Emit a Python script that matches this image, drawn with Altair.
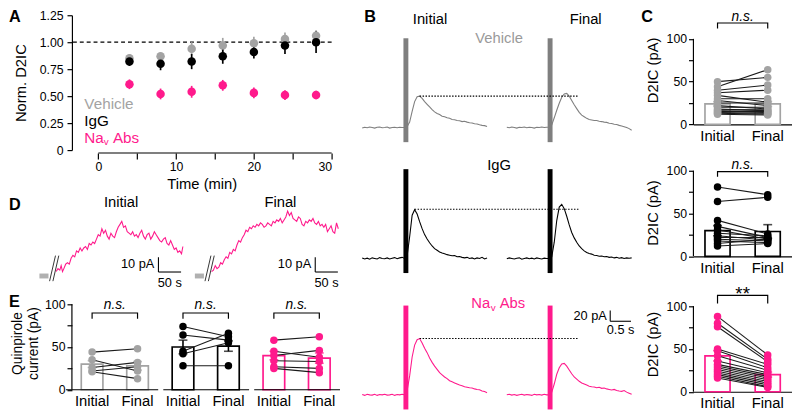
import altair as alt
import pandas as pd

S = 0.985
FONT = "Liberation Sans"
C_VEH = "#a3a3a3"
C_VEH_TR = "#7f7f7f"
C_IGG = "#000000"
C_NAV = "#ff1a8c"
C_LINE = "#1a1a1a"
GROUPS = ["Vehicle", "IgG", "Nav"]
GROUP_COLORS = [C_VEH, C_IGG, C_NAV]


def s(v):
    return v * S


# ================= DATA =================
# ---- Panel A: normalized D2IC over time
a_time = [4, 8, 12, 16, 20, 24, 28]
a_veh = [0.85, 0.87, 0.94, 0.97, 0.99, 1.03, 1.06]
a_veh_err = [0.04, 0.03, 0.06, 0.07, 0.06, 0.06, 0.05]
a_igg = [0.82, 0.80, 0.82, 0.87, 0.91, 0.97, 1.00]
a_igg_err = [0.04, 0.06, 0.07, 0.07, 0.06, 0.08, 0.10]
a_nav = [0.61, 0.52, 0.54, 0.60, 0.53, 0.51, 0.51]
a_nav_err = [0.045, 0.05, 0.055, 0.05, 0.05, 0.045, 0.04]
a_ref_level = [1.0]
a_axis_span = [0, 30]
a_x_ticks = [0, 5, 10, 15, 20, 25, 30]
a_y_ticks = [0, 0.25, 0.5, 0.75, 1.0, 1.25]
a_legend_text = ["Vehicle", "IgG", "Na"]
a_legend_x = [-1.8, -1.8, -1.8]
a_legend_y = [0.43, 0.265, 0.11]

# ---- Panel B: example D2IC traces (pA), sampled every 0.06 s
b_t = [round(0.06 * i, 2) for i in range(51)]
b_veh_init = [-1, 0.5, -0.5, 1, 0, -1, 0.5, 1, -0.5, 0, 1, -1, 0, 0.5, -0.5, 0.5, 0,
              0, 2, 10, 30, 48, 57, 58, 54, 48, 43, 38, 33, 29, 26, 24, 21, 20, 18, 17,
              15, 14.5, 13, 12.5, 11, 11.5, 10, 9, 8.5, 7, 6.5, 5, 4, 3.5, 2]
b_veh_final = [0.5, -0.5, 1, 0, -1, 0.5, 0, 1, -0.5, 0.5, 0, -1, 0.5, 0, 1, 0, 0.5,
               1, 5, 18, 32, 45, 56, 62, 63, 58, 50, 42, 35, 28, 23, 20, 17, 15, 14, 13,
               13, 11.5, 11, 10, 9.5, 8, 7.5, 6, 5.5, 4, 3, 1.5, 0, -2, -5]
b_igg_init = [1, -1, 0.5, -1.5, 1, 0, -1, 1.5, 0, -0.5, 1, -1, 0.5, 1.5, -0.5, 1, 2,
              0, 5, 40, 80, 90, 82, 68, 55, 44, 36, 29, 23, 18, 15, 12, 10, 8.5, 7, 6,
              5, 5.5, 3, 3.5, 2, 1, 2, 0, 1, -1, 1, 0, 2, -1, 1]
b_igg_final = [-0.5, 1, 0, -1, 0.5, 1, -1.5, 0, 1, -0.5, 0.5, -1, 1, 0, -1, 0.5, 0,
               0, 3, 30, 70, 95, 100, 92, 78, 62, 48, 38, 30, 23, 18, 14, 11, 9, 8, 6,
               5.5, 4, 4.5, 3, 3.5, 2, 2.5, 1, 2, 0.5, 1.5, 0, 1, 0.5, 1]
b_nav_init = [0.5, -1, 1, 0, -0.5, 1, -1, 0.5, 0, 1, -0.5, 0, 1, -1, 0.5, 0, 1,
              0, 8, 35, 70, 92, 102, 104, 96, 86, 78, 68, 60, 53, 47, 41, 37, 33, 30, 26,
              24, 22, 20, 18, 17, 15, 14, 13, 12.5, 11, 10, 9.5, 7, 6, 4]
b_nav_final = [0, 1, -0.5, 0.5, -1, 0, 1, -0.5, 0.5, 0, -1, 1, 0, 0.5, -0.5, 1, 0,
               0, 5, 20, 38, 50, 57, 58, 53, 46, 39, 33, 29, 25, 22, 20, 18, 16, 15, 14.5,
               13, 14, 12, 12.5, 11, 10, 9, 10, 8, 7, 6.5, 8, 5, 3, 1]
b_final_offset = 3.475
b_stim_t = [1.05, 4.515]
b_stim_lo = -27
b_stim_hi = 165
b_peak_t = [1.38, 1.26, 1.38]
b_peak_v = [58, 91, 104]
b_dot_end = 5.2
b_header_text = ["Initial", "Final"]
b_header_t = [1.63, 5.37]
b_scalebar_t = [5.96, 6.46]
b_scalebar_v = [136, 156]

# ---- Panel C: D2IC (pA) paired data
c_veh_init = [50, 44, 40, 37, 34, 30, 28, 25, 22, 20, 18, 17, 16, 15, 14, 13, 12]
c_veh_final = [55, 64, 46, 40, 26, 30, 22, 25, 18, 20, 16, 17, 14, 15, 13, 12, 11]
c_igg_init = [81, 64, 42, 35, 31, 27, 24, 22, 20, 18, 15, 12]
c_igg_final = [72, 69, 26, 22, 20, 24, 19, 22, 18, 16, 20, 15]
c_nav_init = [88, 80, 76, 50, 48, 42, 36, 32, 30, 28, 26, 24, 22, 20, 18, 16]
c_nav_final = [43, 38, 35, 32, 28, 25, 22, 20, 18, 16, 14, 12, 10, 8, 6, 5]
c_veh_mean, c_veh_sem = [24, 24], [2.5, 3]
c_igg_mean, c_igg_sem = [30, 29], [6, 8]
c_nav_mean, c_nav_sem = [42, 20], [6, 3]

# ---- Panel D: quinpirole current traces (pA vs s)
d_init_t = [0, 4, 8, 11, 14, 17, 21, 25, 29, 33, 37, 41, 45, 49, 53, 57, 61, 65, 69, 73,
            77, 81, 85, 89, 93, 97, 101, 105, 109, 113, 117, 121, 125, 129, 133, 137,
            141, 145, 149, 153, 157, 161, 165, 169, 173, 177, 181, 185, 189, 193, 197,
            201, 205, 209, 213, 217, 221, 225, 229, 233, 237, 241, 245, 249, 253, 257,
            261, 265, 269, 273, 277, 280]
d_init_v = [3, 5, 4, 7, 3, 5, 8, 9, 8, 12, 14, 13, 17, 16, 19, 17, 19, 20, 18, 22,
            21, 23, 22, 25, 28, 27, 32, 29, 31, 27, 25, 29, 27, 26, 30, 33, 35, 37, 33, 34,
            30, 29, 28, 30, 27, 28, 26, 29, 31, 27, 25, 28, 29, 25, 27, 30, 28, 26, 24, 23,
            25, 26, 22, 21, 24, 21, 18, 19, 16, 17, 15, 20]
d_final_t = [0, 4, 8, 12, 16, 20, 24, 28, 32, 36, 40, 44, 48, 52, 56, 60, 64, 68, 72, 76,
             80, 84, 88, 92, 96, 100, 104, 108, 112, 116, 120, 124, 128, 132, 136, 140,
             144, 148, 152, 156, 160, 164, 168, 172, 176, 180, 184, 188, 192, 196, 200,
             204, 208, 212, 216, 220, 224, 228, 232, 236, 240, 244, 248, 252, 256, 260,
             264, 268, 272, 276, 280]
d_final_v = [3, 4, 7, 5, 6, 9, 8, 11, 13, 12, 16, 15, 18, 17, 21, 24, 23, 26, 28, 31,
             30, 33, 32, 34, 33, 35, 34, 36, 35, 33, 34, 36, 35, 34, 37, 36, 38, 37, 39, 36,
             38, 40, 44, 41, 43, 39, 38, 37, 40, 39, 35, 34, 37, 36, 38, 37, 39, 36, 35, 37,
             34, 35, 33, 35, 30, 32, 34, 30, 29, 36, 32]
d_final_offset = 343.5
d_stub = [-37, -17]
d_break_x0 = [-14.6, -7.2]
d_break_x1 = [-1.5, 5.8]
d_break_v = [-3.5, 13.8]
d_scalebar_t = [226, 572.5]
d_scalebar_len = 50
d_scalebar_v = [2.7, 12.7]
d_title_text = ["Initial", "Final"]
d_title_t = [143.5, 495.5]

# ---- Panel E: quinpirole current (pA) paired data
e_veh_init = [44, 35, 26, 22, 21]
e_veh_final = [48, 22, 32, 27, 13]
e_igg_init = [74, 64, 45, 42, 28]
e_igg_final = [62, 58, 66, 55, 28]
e_nav_init = [58, 45, 40, 34, 27, 25]
e_nav_final = [62, 38, 46, 33, 25, 20]
e_veh_mean, e_veh_sem = [30, 28], [4, 5]
e_igg_mean, e_igg_sem = [50, 51], [8, 6]
e_nav_mean, e_nav_sem = [40, 37], [5, 6]

# ================= LAYOUT (reference px) =================
A_W, A_H = 264, 137
B_W = 313
B_H = [129, 106, 115]
C_W = 100
C_H = [111, 89, 97]
D_W, D_H = 271, 110
E_W, E_H = 272, 95
PA_PX = 0.87  # px per pA for bar panels


def letter(ch, dx, dy):
    return alt.Chart(pd.DataFrame({"txt": [ch]})).mark_text(
        fontSize=s(16.5), fontWeight="bold", align="left", baseline="middle", color="black"
    ).encode(text="txt:N", x=alt.value(s(dx)), y=alt.value(s(dy)))


# ================= PANEL A =================
recs = []
for g, m, e in zip(GROUPS, [a_veh, a_igg, a_nav], [a_veh_err, a_igg_err, a_nav_err]):
    for t, mm, ee in zip(a_time, m, e):
        recs.append({"g": g, "t": t, "m": mm, "lo": mm - ee, "hi": mm + ee})
dfA = pd.DataFrame(recs)
axA_x = alt.Axis(values=a_x_ticks, labelExpr="datum.value % 10 === 0 ? datum.label : ''",
                 title="Time (min)", offset=s(3), domain=False, tickSize=s(6),
                 labelPadding=s(2), titlePadding=s(3), labelFontSize=s(12.5), titleFontSize=s(15))
axA_y = alt.Axis(values=a_y_ticks,
                 labelExpr="datum.value === 0 ? '0' : format(datum.value, '.2f')",
                 title="Norm. D2IC", tickSize=s(5), labelPadding=s(4), titlePadding=s(11),
                 labelFontSize=s(12.5), titleFontSize=s(15))
scA_x = alt.Scale(domain=[-3.4, 30], nice=False, zero=False)
scA_y = alt.Scale(domain=[0, 1.25], nice=False, zero=False)


def XA(f):
    return alt.X(f, type="quantitative", scale=scA_x, axis=axA_x)


def YA(f):
    return alt.Y(f, type="quantitative", scale=scA_y, axis=axA_y)


colG = alt.Color("g:N", scale=alt.Scale(domain=GROUPS, range=GROUP_COLORS), legend=None)

dashA = alt.Chart(pd.DataFrame({"y": a_ref_level})).mark_rule(
    color="black", strokeWidth=s(1.2), strokeDash=[s(4), s(3)]).encode(y=YA("y"))
xlineA = alt.Chart(pd.DataFrame({"x0": [a_axis_span[0]], "x1": [a_axis_span[1]]})).mark_rule(
    color="black", strokeWidth=s(1.2)).encode(x=XA("x0"), x2="x1", y=alt.value(s(A_H + 3)))
errA = alt.Chart(dfA).mark_rule(strokeWidth=s(1.7)).encode(x=XA("t"), y=YA("lo"), y2="hi", color=colG)
ptsA = alt.Chart(dfA).mark_circle(size=s(s(75)), opacity=1).encode(x=XA("t"), y=YA("m"), color=colG)
dfLeg = pd.DataFrame({"txt": a_legend_text, "x": a_legend_x, "y": a_legend_y, "g": GROUPS})
legA = alt.Chart(dfLeg).mark_text(align="left", baseline="middle", fontSize=s(15.5)).encode(
    x=XA("x"), y=YA("y"), text="txt:N", color=colG)
legSub = alt.Chart(dfLeg.iloc[[2]]).mark_text(align="left", baseline="middle", fontSize=s(10),
                                              dx=s(19.8), dy=s(4), text="v", color=C_NAV).encode(
    x=XA("x"), y=YA("y"))
legAbs = alt.Chart(dfLeg.iloc[[2]]).mark_text(align="left", baseline="middle", fontSize=s(15.5),
                                              dx=s(29), text="Abs", color=C_NAV).encode(
    x=XA("x"), y=YA("y"))
chartA = alt.layer(dashA, xlineA, errA, ptsA, legA, legSub, legAbs, letter("A", -64, 2)).properties(
    width=s(A_W), height=s(A_H))

# ================= PANEL B =================
B_PX_PER_S = 42.3
B_PX_PER_PA = 0.55
B_YMIN = -27


def b_enc(H):
    xsc = alt.Scale(domain=[0, B_W / B_PX_PER_S], nice=False, zero=False)
    ysc = alt.Scale(domain=[B_YMIN, B_YMIN + H / B_PX_PER_PA], nice=False, zero=False)

    def X(f):
        return alt.X(f, type="quantitative", scale=xsc, axis=None)

    def Y(f):
        return alt.Y(f, type="quantitative", scale=ysc, axis=None)
    return X, Y


def b_core(X, Y, vi, vf, color, peak_t, peak_v):
    df = pd.DataFrame({"t": b_t + [t + b_final_offset for t in b_t], "v": vi + vf,
                       "seg": ["Initial"] * len(b_t) + ["Final"] * len(b_t)})
    trace = alt.Chart(df).mark_line(color=color, strokeWidth=s(1.1)).encode(
        x=X("t"), y=Y("v"), detail="seg:N")
    stim = alt.Chart(pd.DataFrame({"t": b_stim_t, "lo": [b_stim_lo] * 2, "hi": [b_stim_hi] * 2})).mark_rule(
        color=color, strokeWidth=s(5)).encode(x=X("t"), y=Y("lo"), y2="hi")
    dot = alt.Chart(pd.DataFrame({"t0": [peak_t], "t1": [b_dot_end], "v": [peak_v]})).mark_rule(
        color="black", strokeWidth=s(1.1), strokeDash=[s(1.5), s(1.5)]).encode(x=X("t0"), x2="t1", y=Y("v"))
    return [trace, stim, dot]


def b_text(X, Y, txt, t, v, color, fs=15, align="center", dx=0, dy=0, style="normal"):
    return alt.Chart(pd.DataFrame({"txt": [txt], "t": [t], "v": [v]})).mark_text(
        align=align, baseline="middle", fontSize=s(fs), color=color, dx=s(dx), dy=s(dy),
        fontStyle=style).encode(x=X("t"), y=Y("v"), text="txt:N")


def b_label_px(X, txt, t, ypx, color, fs=15, dx=0):
    # row label placed at a fixed height near the top of the trace row
    return alt.Chart(pd.DataFrame({"lab": [txt], "tt": [t]})).mark_text(
        align="left", baseline="middle", fontSize=s(fs), color=color, dx=s(dx)).encode(
        x=X("tt"), y=alt.value(s(ypx)), text="lab:N")


X1, Y1 = b_enc(B_H[0])
hdr = alt.Chart(pd.DataFrame({"txt": b_header_text, "t": b_header_t, "v": [198, 198]})).mark_text(
    fontSize=s(15), baseline="middle", color="black").encode(x=X1("t"), y=Y1("v"), text="txt:N")
chartB1 = alt.layer(
    *b_core(X1, Y1, b_veh_init, b_veh_final, C_VEH_TR, b_peak_t[0], b_peak_v[0]),
    hdr, b_text(X1, Y1, "Vehicle", 3.29, 164, "#9a9a9a"), letter("B", 2, 2)
).properties(width=s(B_W), height=s(B_H[0]))

X2, Y2 = b_enc(B_H[1])
chartB2 = alt.layer(
    *b_core(X2, Y2, b_igg_init, b_igg_final, C_IGG, b_peak_t[1], b_peak_v[1]),
    b_text(X2, Y2, "IgG", 3.29, 171, "black")
).properties(width=s(B_W), height=s(B_H[1]))

X3, Y3 = b_enc(B_H[2])
sbv = alt.Chart(pd.DataFrame({"t": [b_scalebar_t[0]], "v0": [b_scalebar_v[0]], "v1": [b_scalebar_v[1]]})).mark_rule(
    color="black", strokeWidth=s(1.1)).encode(x=X3("t"), y=Y3("v0"), y2="v1")
sbh = alt.Chart(pd.DataFrame({"t0": [b_scalebar_t[0]], "t1": [b_scalebar_t[1]], "v": [b_scalebar_v[0]]})).mark_rule(
    color="black", strokeWidth=s(1.1)).encode(x=X3("t0"), x2="t1", y=Y3("v"))
chartB3 = alt.layer(
    *b_core(X3, Y3, b_nav_init, b_nav_final, C_NAV, b_peak_t[2], b_peak_v[2]),
    b_label_px(X3, "Na", 2.62, 8, C_NAV),
    b_label_px(X3, "v", 2.62, 12, C_NAV, fs=10, dx=19.8),
    b_label_px(X3, "Abs", 2.62, 8, C_NAV, dx=29),
    sbv, sbh,
    b_text(X3, Y3, "20 pA", 5.88, 146, "black", fs=13, align="right"),
    b_text(X3, Y3, "0.5 s", 6.21, 120, "black", fs=13),
).properties(width=s(B_W), height=s(B_H[2]))


# ================= PAIRED BAR PANELS (C, E) =================
def paired_panel(groups, inits, finals, means, sems, W, H, ytitle, tpad, brackets, pi, po,
                 extra=None, split_axis=False, title_fs=15):
    cats = [f"{g}|{c}" for g in groups for c in ("Initial", "Final")]
    step = W / (len(cats) - pi + 2 * po)
    ytop = H / PA_PX
    xsc = alt.Scale(domain=cats, paddingInner=pi, paddingOuter=po)
    xax = alt.Axis(title=None, labelExpr="split(datum.label, '|')[1]", ticks=False, labelAngle=0,
                   labelFontSize=s(15), labelPadding=s(4), domain=not split_axis)
    ysc = alt.Scale(domain=[0, ytop], nice=False, zero=False)
    yax = alt.Axis(title=ytitle, values=[0, 25, 50, 75, 100],
                   labelExpr="datum.value % 50 === 0 ? datum.label : ''", domain=False,
                   tickSize=s(5), labelFontSize=s(12.5), titleFontSize=s(title_fs), labelPadding=s(2),
                   titlePadding=s(tpad))

    def X(f):
        return alt.X(f, type="nominal", scale=xsc, axis=xax, sort=cats)

    def Y(f):
        return alt.Y(f, type="quantitative", scale=ysc, axis=yax)

    prow, brow, caprow, brk_rows, txt_rows = [], [], [], [], []
    for g, ini, fin, m, e in zip(groups, inits, finals, means, sems):
        for i, (a, b) in enumerate(zip(ini, fin)):
            prow.append({"cat": f"{g}|Initial", "v": a, "g": g, "pid": f"{g}{i}"})
            prow.append({"cat": f"{g}|Final", "v": b, "g": g, "pid": f"{g}{i}"})
        for c, mm, ee in zip(("Initial", "Final"), m, e):
            brow.append({"cat": f"{g}|{c}", "m": mm, "lo": mm - ee, "hi": mm + ee, "g": g})
            caprow.append({"cat": f"{g}|{c}", "v": mm + ee, "g": g})
            caprow.append({"cat": f"{g}|{c}", "v": mm - ee, "g": g})
    for (g, tip, top, tv, txt) in brackets:
        for o, (c, v) in enumerate([("Initial", tip), ("Initial", top), ("Final", top), ("Final", tip)]):
            brk_rows.append({"g": g, "cat": f"{g}|{c}", "v": v, "o": o})
        txt_rows.append({"g": g, "cat": f"{g}|Initial", "v": tv, "txt": txt})
    dfP, dfBar, dfCap = pd.DataFrame(prow), pd.DataFrame(brow), pd.DataFrame(caprow)
    dfBrk, dfTxt = pd.DataFrame(brk_rows), pd.DataFrame(txt_rows)

    yline = alt.Chart(pd.DataFrame({"y0": [0], "y1": [100]})).mark_rule(
        color="black", strokeWidth=s(1.2)).encode(x=alt.value(0), y=Y("y0"), y2="y1")
    bars = alt.Chart(dfBar).mark_bar(filled=False, strokeWidth=s(1.7)).encode(
        x=X("cat"), y=Y("m"), color=colG)
    err = alt.Chart(dfBar).mark_rule(strokeWidth=s(1.6)).encode(x=X("cat"), y=Y("lo"), y2="hi", color=colG)
    caps = alt.Chart(dfCap).mark_tick(thickness=s(1.6), size=s(9)).encode(x=X("cat"), y=Y("v"), color=colG)
    lines = alt.Chart(dfP).mark_line(color=C_LINE, strokeWidth=s(1.1)).encode(
        x=X("cat"), y=Y("v"), detail="pid:N")
    pts = alt.Chart(dfP).mark_circle(size=s(s(58)), opacity=1).encode(x=X("cat"), y=Y("v"), color=colG)
    brk = alt.Chart(dfBrk).mark_line(color="black", strokeWidth=s(1.2)).encode(
        x=X("cat"), y=Y("v"), detail="g:N", order="o:Q")
    layers = [yline, bars, err, caps, lines, pts, brk]
    if split_axis:
        # separate baseline segment under each group, spanning its two bars
        po_px = po * step
        for k in range(len(groups)):
            c_i = po_px + (2 * k) * step + step * (1 - pi) / 2
            c_f = c_i + step
            x0 = -6 if k == 0 else c_i - 20
            layers.append(alt.Chart(pd.DataFrame({"z": [k]})).mark_rule(
                color="black", strokeWidth=s(1.2)).encode(
                x=alt.value(s(x0)), x2=alt.value(s(c_f + 21)), y=alt.value(s(H))))
    for _, r in dfTxt.iterrows():
        star = r["txt"] == "**"
        layers.append(alt.Chart(pd.DataFrame([r])).mark_text(
            dx=s(step / 2), dy=s(4) if star else 0, baseline="middle", color="black",
            fontSize=s(19) if star else s(14), fontStyle="normal" if star else "italic").encode(
            x=X("cat"), y=Y("v"), text="txt:N"))
    if extra is not None:
        layers.append(extra)
    return alt.layer(*layers).properties(width=s(W), height=s(H))


chartC1 = paired_panel(["Vehicle"], [c_veh_init], [c_veh_final], [c_veh_mean], [c_veh_sem],
                       C_W, C_H[0], "D2IC (pA)", 6, [("Vehicle", 112, 118.5, 125.5, "n.s.")],
                       0.5, 0.23, extra=letter("C", -53, 2))
chartC2 = paired_panel(["IgG"], [c_igg_init], [c_igg_final], [c_igg_mean], [c_igg_sem],
                       C_W, C_H[1], "D2IC (pA)", 6, [("IgG", 93, 99, 107, "n.s.")], 0.5, 0.23)
chartC3 = paired_panel(["Nav"], [c_nav_init], [c_nav_final], [c_nav_mean], [c_nav_sem],
                       C_W, C_H[2], "D2IC (pA)", 6, [("Nav", 103, 112.5, 119, "**")], 0.5, 0.23)

chartE = paired_panel(GROUPS, [e_veh_init, e_igg_init, e_nav_init],
                      [e_veh_final, e_igg_final, e_nav_final],
                      [e_veh_mean, e_igg_mean, e_nav_mean], [e_veh_sem, e_igg_sem, e_nav_sem],
                      E_W, E_H, ["Quinpirole", "current (pA)"], 4,
                      [(g, 83, 89.7, 99, "n.s.") for g in GROUPS], 0.524, 0.206,
                      extra=letter("E", -64, 6), split_axis=True, title_fs=14)

# ================= PANEL D =================
D_PX_PER_S = 0.46
D_PX_PER_PA = 1.5
scD_x = alt.Scale(domain=[34.8, 34.8 + D_W / D_PX_PER_S], nice=False, zero=False)
scD_y = alt.Scale(domain=[-0.667, -0.667 + D_H / D_PX_PER_PA], nice=False, zero=False)


def XD(f):
    return alt.X(f, type="quantitative", scale=scD_x, axis=None)


def YD(f):
    return alt.Y(f, type="quantitative", scale=scD_y, axis=None)


dfD = pd.DataFrame({"t": d_init_t + [t + d_final_offset for t in d_final_t],
                    "v": d_init_v + d_final_v,
                    "seg": ["Initial"] * len(d_init_t) + ["Final"] * len(d_final_t)})
traceD = alt.Chart(dfD).mark_line(color=C_NAV, strokeWidth=s(1.1)).encode(x=XD("t"), y=YD("v"), detail="seg:N")
offs = [0, d_final_offset]
stubD = alt.Chart(pd.DataFrame({"t0": [d_stub[0] + o for o in offs], "t1": [d_stub[1] + o for o in offs],
                                "v": [0, 0]})).mark_rule(color="#b0b0b0", strokeWidth=s(5)).encode(
    x=XD("t0"), x2="t1", y=YD("v"))
brkD = alt.Chart(pd.DataFrame({
    "t0": [x + o for o in offs for x in d_break_x0],
    "t1": [x + o for o in offs for x in d_break_x1],
    "v0": [d_break_v[0]] * 4, "v1": [d_break_v[1]] * 4})).mark_rule(color="#333333", strokeWidth=s(1)).encode(
    x=XD("t0"), x2="t1", y=YD("v0"), y2="v1")
sbDv = alt.Chart(pd.DataFrame({"t": d_scalebar_t, "v0": [d_scalebar_v[0]] * 2, "v1": [d_scalebar_v[1]] * 2})).mark_rule(
    color="black", strokeWidth=s(1.1)).encode(x=XD("t"), y=YD("v0"), y2="v1")
sbDh = alt.Chart(pd.DataFrame({"t0": d_scalebar_t, "t1": [t + d_scalebar_len for t in d_scalebar_t],
                               "v": [d_scalebar_v[0]] * 2})).mark_rule(color="black", strokeWidth=s(1.1)).encode(
    x=XD("t0"), x2="t1", y=YD("v"))
sbDt1 = alt.Chart(pd.DataFrame({"t": [t - 9 for t in d_scalebar_t], "v": [8, 8], "txt": ["10 pA", "10 pA"]})).mark_text(
    align="right", baseline="middle", fontSize=s(13), color="black").encode(x=XD("t"), y=YD("v"), text="txt:N")
sbDt2 = alt.Chart(pd.DataFrame({"t": [t + 25 for t in d_scalebar_t], "v": [-4.5, -4.5], "txt": ["50 s", "50 s"]})).mark_text(
    align="center", baseline="middle", fontSize=s(13), color="black").encode(x=XD("t"), y=YD("v"), text="txt:N")
titD = alt.Chart(pd.DataFrame({"t": d_title_t, "v": [49.3, 49.3], "txt": d_title_text})).mark_text(
    align="center", baseline="middle", fontSize=s(15), color="black").encode(x=XD("t"), y=YD("v"), text="txt:N")
chartD = alt.layer(stubD, brkD, traceD, sbDv, sbDh, sbDt1, sbDt2, titD, letter("D", -64, 37)).properties(
    width=s(D_W), height=s(D_H))

# ================= COMPOSE =================
chart = alt.concat(
    chartA, chartB1, chartC1,
    chartD, chartB2, chartC2,
    chartE, chartB3, chartC3,
    columns=3, spacing={"row": s(19), "column": s(23)}, bounds="flush"
).properties(padding=0).configure(font=FONT).configure_view(strokeWidth=0).configure_axis(
    grid=False, labelFont=FONT, titleFont=FONT, labelColor="black", titleColor="black",
    domainColor="black", tickColor="black", titleFontWeight="normal",
    domainWidth=s(1.2), tickWidth=s(1.2)
).configure_text(font=FONT)

chart.save("out.html", embed_options={"renderer": "svg", "actions": False})
